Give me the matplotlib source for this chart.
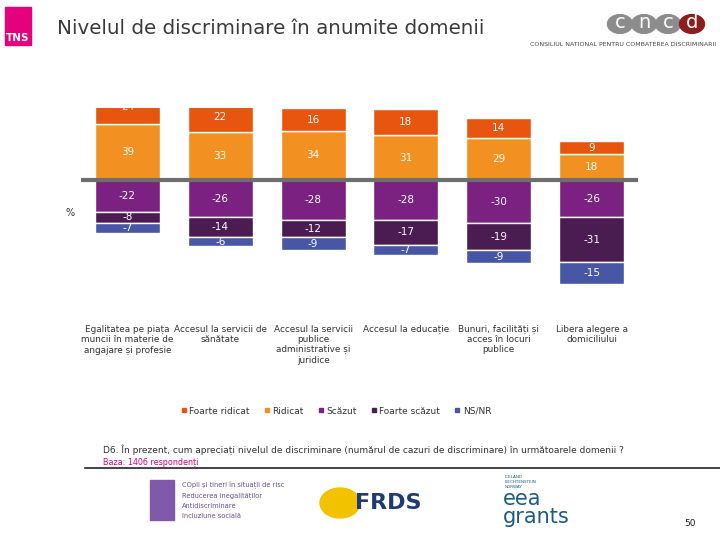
import numpy as np
import matplotlib
matplotlib.use("Agg")
import matplotlib.pyplot as plt
from matplotlib.patches import Rectangle, Circle

categories = [
    "Egalitatea pe piața\nmuncii în materie de\nangajare și profesie",
    "Accesul la servicii de\nsănătate",
    "Accesul la servicii\npublice\nadministrative și\njuridice",
    "Accesul la educație",
    "Bunuri, facilități și\nacces în locuri\npublice",
    "Libera alegere a\ndomiciliului",
]
foarte_ridicat = [24, 22, 16, 18, 14, 9]
ridicat = [39, 33, 34, 31, 29, 18]
scazut = [-22, -26, -28, -28, -30, -26]
foarte_scazut = [-8, -14, -12, -17, -19, -31]
ns_nr = [-7, -6, -9, -7, -9, -15]

series_names = ["Foarte ridicat", "Ridicat", "Scăzut", "Foarte scăzut", "NS/NR"]
colors = ["#E8550E", "#F39022", "#7A2181", "#4B1C52", "#4757A5"]

plt.rcParams['font.family'] = ['DejaVu Sans']

fig = plt.figure(figsize=(7.2, 5.4), dpi=100)
ax = fig.add_axes([0.1125, 0.463, 0.7736, 0.337])

x = np.arange(len(categories))
w = 0.70

# positive side: ridicat at the axis, foarte ridicat on top
pos = [ridicat, foarte_ridicat]
pos_col = [colors[1], colors[0]]
base = np.zeros(len(x))
for vals, c in zip(pos, pos_col):
    vals = np.array(vals, dtype=float)
    ax.bar(x, vals, w, bottom=base, color=c, edgecolor="white", linewidth=1)
    for xi, b, v in zip(x, base, vals):
        ax.text(xi, b + v / 2, f"{int(v)}", ha="center", va="center",
                color="white", fontsize=7.5, clip_on=True)
    base = base + vals

# negative side
neg = [scazut, foarte_scazut, ns_nr]
neg_col = colors[2:]
base = np.zeros(len(x))
for vals, c in zip(neg, neg_col):
    vals = np.array(vals, dtype=float)
    ax.bar(x, vals, w, bottom=base, color=c, edgecolor="white", linewidth=1)
    for xi, b, v in zip(x, base, vals):
        ax.text(xi, b + v / 2, f"{int(v)}", ha="center", va="center",
                color="white", fontsize=7.5, clip_on=True)
    base = base + vals

ax.axhline(0, color="#6E6E6E", linewidth=3, zorder=5)
ax.set_xlim(-0.5, 5.5)
ax.set_ylim(-76.5, 50.0)
ax.axis("off")

for xi, lab in zip(x, categories):
    ax.text(xi, -101, lab, ha="center", va="top", fontsize=6.4,
            color="#333333", linespacing=1.15, clip_on=False)

fig.text(0.097, 1 - 213 / 540, "%", fontsize=7, color="#333333",
         ha="center", va="center")

# legend
handles = [plt.Line2D([], [], marker="s", linestyle="none", markersize=2.5,
                      color=c) for c in colors]
fig.legend(handles, series_names, loc="center", ncol=5,
           bbox_to_anchor=(0.467, 1 - 411 / 540), frameon=False,
           fontsize=6.5, handlelength=0.6, handletextpad=0.3,
           columnspacing=1.6, labelcolor="#333333")

# header
fig.patches.append(Rectangle((5 / 720, 1 - 45 / 540), 26 / 720, 38 / 540,
                             transform=fig.transFigure, color="#E5007E"))
fig.text(18 / 720, 1 - 38 / 540, "TNS", color="white", fontsize=7.5,
         fontweight="bold", ha="center", va="center")
fig.text(57 / 720, 1 - 28 / 540, "Nivelul de discriminare în anumite domenii",
         fontsize=14.3, color="#3A3A3A", va="center", ha="left")

for i, (ch, c) in enumerate(zip("cncd", ["#8C8C8C", "#8C8C8C", "#8C8C8C", "#8B1E1E"])):
    cx = (620 + i * 24) / 720
    fig.patches.append(Circle((cx, 1 - 24 / 540), 12.5 / 720,
                              transform=fig.transFigure, color=c))
    fig.text(cx, 1 - 23 / 540, ch, color="white", fontsize=14,
             ha="center", va="center")
fig.text(623 / 720, 1 - 44 / 540,
         "CONSILIUL NATIONAL PENTRU COMBATEREA DISCRIMINARII",
         fontsize=4.5, color="#444444", ha="center", va="center")

# footer
fig.text(103 / 720, 1 - 450 / 540,
         "D6. În prezent, cum apreciați nivelul de discriminare (numărul de cazuri de discriminare) în următoarele domenii ?",
         fontsize=6.5, color="#333333", va="center")
fig.text(103 / 720, 1 - 462 / 540, "Baza: 1406 respondenți",
         fontsize=5.8, color="#D6007A", va="center")
fig.add_artist(plt.Line2D([85 / 720, 1.0], [1 - 468 / 540, 1 - 468 / 540],
                          color="#222222", linewidth=1.2,
                          transform=fig.transFigure))

fig.patches.append(Rectangle((150 / 720, 1 - 520 / 540), 24 / 720, 40 / 540,
                             transform=fig.transFigure, color="#7E5AA8"))
fig.text(182 / 720, 1 - 500 / 540,
         "COpii și tineri în situații de risc\nReducerea inegalităților\nAntidiscriminare\nIncluziune socială",
         fontsize=4.8, color="#6A4C93", va="center", linespacing=1.7)
fig.patches.append(Circle((340 / 720, 1 - 503 / 540), 20 / 720,
                          transform=fig.transFigure, color="#F2C200"))
fig.text(388 / 720, 1 - 503 / 540, "FRDS", fontsize=16, color="#1F3B73",
         fontweight="bold", va="center", ha="center")
fig.text(503 / 720, 1 - 508 / 540, "eea\ngrants", fontsize=15,
         color="#1D5B87", va="center", ha="left", linespacing=0.85)
fig.text(505 / 720, 1 - 482 / 540, "ICELAND\nLIECHTENSTEIN\nNORWAY",
         fontsize=3, color="#1D5B87", va="center", ha="left")
fig.text(690 / 720, 1 - 523 / 540, "50", fontsize=6.5, color="#222222",
         ha="center", va="center")

fig.savefig("out.png", dpi=100)
